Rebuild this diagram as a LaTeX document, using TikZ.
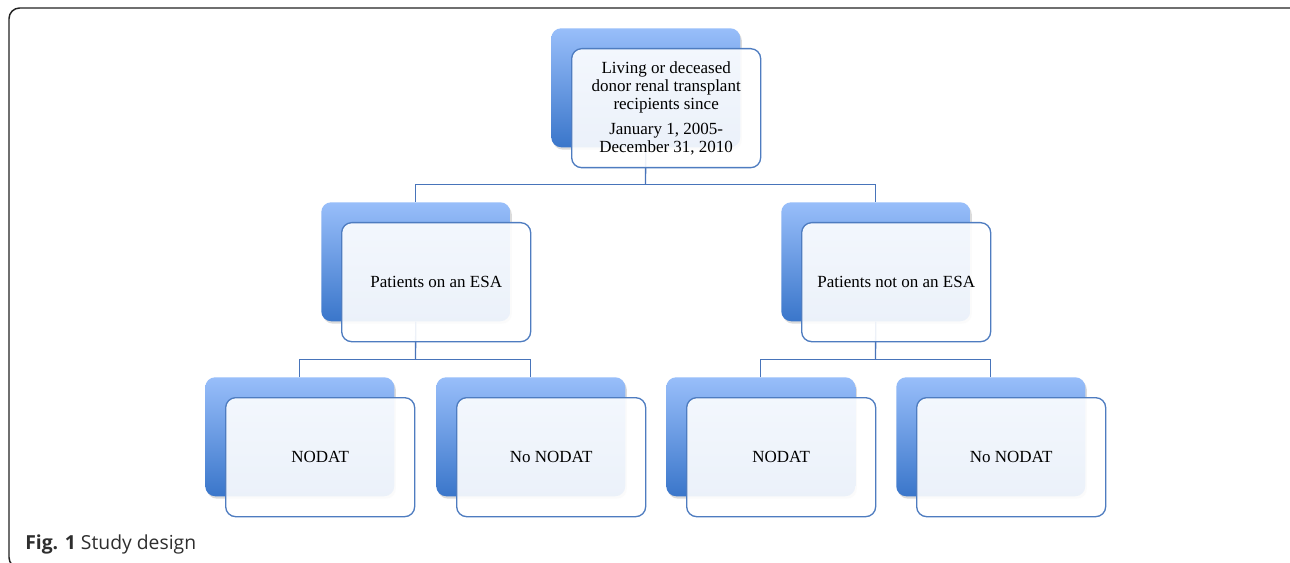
\documentclass[tikz,border=0pt]{standalone}
\usepackage{fontspec}
\setmainfont{Liberation Serif}
\newfontfamily\capfont{Open Sans}
\usetikzlibrary{shadows,calc}
\definecolor{bluetop}{RGB}{152,190,250}
\definecolor{bluebot}{RGB}{58,118,202}
\definecolor{edgeblue}{RGB}{78,124,192}
\definecolor{connblue}{RGB}{72,116,186}
\definecolor{framegray}{RGB}{35,35,35}
\tikzset{
  backbox/.style={rectangle, rounded corners=7.5pt, inner sep=0pt,
    minimum width=141.75pt, minimum height=89.25pt,
    top color=bluetop, bottom color=bluebot, draw=none,
    drop shadow={shadow xshift=1.2pt, shadow yshift=-1.8pt, opacity=0.28}},
  frontbox/.style={rectangle, rounded corners=7.5pt, inner sep=0pt,
    minimum width=141.75pt, minimum height=89.25pt,
    draw=edgeblue, line width=1pt, fill=white, fill opacity=0.9, text opacity=1,
    font=\fontsize{12.75}{13.5}\selectfont, align=center},
  conn/.style={draw=connblue, line width=1pt},
}
\begin{document}
\begin{tikzpicture}[x=0.75pt,y=-0.75pt]
\useasboundingbox (0,0) rectangle (1290,563);
\clip (0,0) rectangle (1290,563);
\fill[white] (0,0) rectangle (1290,563);
\draw[framegray, line width=1.1pt, rounded corners=8pt] (9,8) rectangle (1310,568);
% back boxes
\node[backbox, anchor=north west] (tB) at (551,28) {};
\node[backbox, anchor=north west] (lB) at (321,202) {};
\node[backbox, anchor=north west] (rB) at (781,202) {};
\node[backbox, anchor=north west] (b1B) at (205,377) {};
\node[backbox, anchor=north west] (b2B) at (436,377) {};
\node[backbox, anchor=north west] (b3B) at (666,377) {};
\node[backbox, anchor=north west] (b4B) at (896,377) {};
% connectors
\coordinate (j1) at (645.5,184.5);
\coordinate (j2) at (415.5,359.5);
\coordinate (j3) at (875.5,359.5);
\draw[conn] (tB.south) -- (j1);
\draw[conn] (lB.north) |- (j1) -| (rB.north);
\draw[conn] (lB.south) -- (j2);
\draw[conn] (b1B.north) |- (j2) -| (b2B.north);
\draw[conn] (rB.south) -- (j3);
\draw[conn] (b3B.north) |- (j3) -| (b4B.north);
% front boxes
\node[frontbox, anchor=north west] (t) at (571,48) {Living or deceased\\donor renal transplant\\recipients since\\[5.25pt]January 1, 2005-\\December 31, 2010};
\node[frontbox, anchor=north west] (l) at (341,222) {Patients on an ESA};
\node[frontbox, anchor=north west] (r) at (801,222) {Patients not on an ESA};
\node[frontbox, anchor=north west] (b1) at (225,397) {NODAT};
\node[frontbox, anchor=north west] (b2) at (456,397) {No NODAT};
\node[frontbox, anchor=north west] (b3) at (686,397) {NODAT};
\node[frontbox, anchor=north west] (b4) at (916,397) {No NODAT};
% caption
\node[anchor=base west, inner sep=0pt, font=\capfont\fontsize{14.5}{16}\selectfont, text=black!82] (cap) at (25,549) {\textbf{Fig. 1} Study design};
\end{tikzpicture}
\end{document}
